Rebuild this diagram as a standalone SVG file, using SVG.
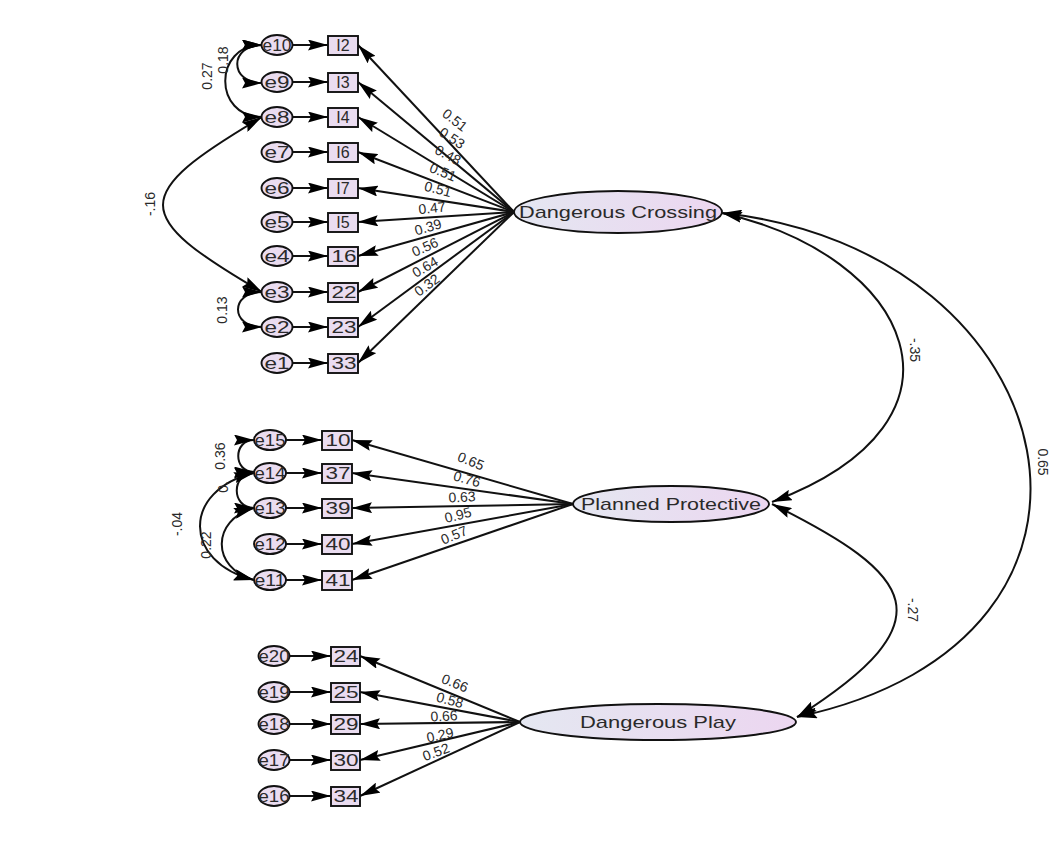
<svg xmlns="http://www.w3.org/2000/svg" width="1054" height="841" viewBox="0 0 1054 841">
<defs>
<linearGradient id="lg" x1="0" y1="0" x2="1" y2="0">
<stop offset="0" stop-color="#e4e7f1"/>
<stop offset="1" stop-color="#ecd6f0"/>
</linearGradient>
<marker id="ah" viewBox="0 0 20 11" refX="20" refY="5.5" markerWidth="20" markerHeight="11" orient="auto" markerUnits="userSpaceOnUse"><path d="M0,0 L20,5.5 L0,11 L3,5.5 z" fill="#000"/></marker>
<marker id="as" viewBox="0 0 20 11" refX="20" refY="5.5" markerWidth="20" markerHeight="11" orient="auto-start-reverse" markerUnits="userSpaceOnUse"><path d="M0,0 L20,5.5 L0,11 L3,5.5 z" fill="#000"/></marker>
<style>
.box{fill:#eadcf0;stroke:#111;stroke-width:1.9}
.err{fill:#eadcf0;stroke:#111;stroke-width:1.9}
.lat{fill:url(#lg);stroke:#111;stroke-width:1.9}
.t{font-family:"Liberation Sans",Arial,sans-serif;fill:#2a2a2a;text-anchor:middle}
.nl{font-size:16px}
.ll{font-size:14px}
.lt{font-size:17px}
.ln{stroke:#111;stroke-width:2;fill:none;marker-end:url(#ah)}
.cv{stroke:#111;stroke-width:2;fill:none;marker-start:url(#as);marker-end:url(#as)}
</style>
</defs>
<rect width="1054" height="841" fill="#fff"/>

<g id="connectors">
<path class="ln" d="M292,45 L328,45"/>
<path class="ln" d="M292,82 L328,82"/>
<path class="ln" d="M292,117 L328,117"/>
<path class="ln" d="M292,152 L328,152"/>
<path class="ln" d="M292,188 L328,188"/>
<path class="ln" d="M292,222 L328,222"/>
<path class="ln" d="M292,256 L328,256"/>
<path class="ln" d="M292,292 L328,292"/>
<path class="ln" d="M292,327 L328,327"/>
<path class="ln" d="M292,363 L328,363"/>
<path class="ln" d="M286,440 L322,440"/>
<path class="ln" d="M286,473 L322,473"/>
<path class="ln" d="M286,508 L322,508"/>
<path class="ln" d="M286,544 L322,544"/>
<path class="ln" d="M286,580 L322,580"/>
<path class="ln" d="M289,656 L331,656"/>
<path class="ln" d="M289,692 L331,692"/>
<path class="ln" d="M289,724 L331,724"/>
<path class="ln" d="M289,760 L331,760"/>
<path class="ln" d="M289,796 L331,796"/>
<path class="ln" d="M514,212 L358,45"/>
<path class="ln" d="M514,212 L358,82"/>
<path class="ln" d="M514,212 L358,117"/>
<path class="ln" d="M514,212 L358,152"/>
<path class="ln" d="M514,212 L358,188"/>
<path class="ln" d="M514,212 L358,222"/>
<path class="ln" d="M514,212 L358,256"/>
<path class="ln" d="M514,212 L358,292"/>
<path class="ln" d="M514,212 L358,327"/>
<path class="ln" d="M514,212 L358,363"/>
<path class="ln" d="M573,504 L352,440"/>
<path class="ln" d="M573,504 L352,473"/>
<path class="ln" d="M573,504 L352,508"/>
<path class="ln" d="M573,504 L352,544"/>
<path class="ln" d="M573,504 L352,580"/>
<path class="ln" d="M520,722 L360,656"/>
<path class="ln" d="M520,722 L360,692"/>
<path class="ln" d="M520,722 L360,724"/>
<path class="ln" d="M520,722 L360,760"/>
<path class="ln" d="M520,722 L360,796"/>
<path class="cv" d="M722,213 C910,255 990,420 772,502"/>
<path class="cv" d="M722,213 C1070,250 1162,640 797,717"/>
<path class="cv" d="M772,504 C915,575 950,620 797,717"/>
<path class="cv" d="M262,45 C229,45 229,83 262,83"/>
<path class="cv" d="M262,45 C213,45 213,117 262,117"/>
<path class="cv" d="M262,117 C130,195 130,215 262,292"/>
<path class="cv" d="M262,292 C230,292 230,327 262,327"/>
<path class="cv" d="M254,440 C233,440 233,472 254,472"/>
<path class="cv" d="M254,473 C231,473 231,508 254,508"/>
<path class="cv" d="M254,473 C182,490 182,562 254,580"/>
<path class="cv" d="M254,508 C211,520 211,568 254,580"/>
</g>

<g id="edge-labels">
<text class="t ll" transform="translate(455,120) rotate(38)" dy="0.35em">0.51</text>
<text class="t ll" transform="translate(452,138) rotate(33)" dy="0.35em">0.53</text>
<text class="t ll" transform="translate(448,155) rotate(28)" dy="0.35em">0.48</text>
<text class="t ll" transform="translate(443,172) rotate(22)" dy="0.35em">0.51</text>
<text class="t ll" transform="translate(438,189) rotate(14)" dy="0.35em">0.51</text>
<text class="t ll" transform="translate(432,208) rotate(-6)" dy="0.35em">0.47</text>
<text class="t ll" transform="translate(428,227) rotate(-16)" dy="0.35em">0.39</text>
<text class="t ll" transform="translate(425,247) rotate(-24)" dy="0.35em">0.56</text>
<text class="t ll" transform="translate(425,267) rotate(-30)" dy="0.35em">0.64</text>
<text class="t ll" transform="translate(427,285) rotate(-36)" dy="0.35em">0.32</text>

<text class="t ll" transform="translate(471,461) rotate(22)" dy="0.35em">0.65</text>
<text class="t ll" transform="translate(467,479) rotate(16)" dy="0.35em">0.76</text>
<text class="t ll" transform="translate(462,497) rotate(-3)" dy="0.35em">0.63</text>
<text class="t ll" transform="translate(458,515) rotate(-14)" dy="0.35em">0.95</text>
<text class="t ll" transform="translate(454,535) rotate(-22)" dy="0.35em">0.57</text>

<text class="t ll" transform="translate(455,683) rotate(22)" dy="0.35em">0.66</text>
<text class="t ll" transform="translate(450,700) rotate(15)" dy="0.35em">0.58</text>
<text class="t ll" transform="translate(444,716) rotate(-3)" dy="0.35em">0.66</text>
<text class="t ll" transform="translate(440,735) rotate(-12)" dy="0.35em">0.29</text>
<text class="t ll" transform="translate(436,752) rotate(-20)" dy="0.35em">0.52</text>

<text class="t ll" transform="translate(915,350) rotate(90)" dy="0.35em">-.35</text>
<text class="t ll" transform="translate(1043,462) rotate(90)" dy="0.35em">0.65</text>
<text class="t ll" transform="translate(913,610) rotate(90)" dy="0.35em">-.27</text>

<text class="t ll" transform="translate(207,76) rotate(-90)" dy="0.35em">0.27</text>
<text class="t ll" transform="translate(223,60) rotate(-90)" dy="0.35em">0.18</text>
<text class="t ll" transform="translate(150,204) rotate(-90)" dy="0.35em">-.16</text>
<text class="t ll" transform="translate(222,310) rotate(-90)" dy="0.35em">0.13</text>
<text class="t ll" transform="translate(220,456) rotate(-90)" dy="0.35em">0.36</text>
<text class="t ll" transform="translate(223,487) rotate(-90)" dy="0.35em">0.</text>
<text class="t ll" transform="translate(177,524) rotate(-90)" dy="0.35em">-.04</text>
<text class="t ll" transform="translate(206,545) rotate(-90)" dy="0.35em">0.22</text>
</g>

<g id="DC"><ellipse class="lat" cx="618" cy="212" rx="104" ry="21"/><text class="t lt" x="618" y="218" textLength="198" lengthAdjust="spacingAndGlyphs">Dangerous Crossing</text></g>
<g id="PP"><ellipse class="lat" cx="671" cy="504" rx="98" ry="18"/><text class="t lt" x="671" y="510" textLength="180" lengthAdjust="spacingAndGlyphs">Planned Protective</text></g>
<g id="DP"><ellipse class="lat" cx="658" cy="722" rx="138" ry="18"/><text class="t lt" x="658" y="728" textLength="156" lengthAdjust="spacingAndGlyphs">Dangerous Play</text></g>

<g id="e10"><ellipse class="err" cx="277" cy="45" rx="15.5" ry="10"/><text class="t nl" x="277" y="51" textLength="29" lengthAdjust="spacingAndGlyphs">e10</text></g>
<g id="e9"><ellipse class="err" cx="277" cy="82" rx="15.5" ry="10"/><text class="t nl" x="277" y="88" textLength="25" lengthAdjust="spacingAndGlyphs">e9</text></g>
<g id="e8"><ellipse class="err" cx="277" cy="117" rx="15.5" ry="10"/><text class="t nl" x="277" y="123" textLength="25" lengthAdjust="spacingAndGlyphs">e8</text></g>
<g id="e7"><ellipse class="err" cx="277" cy="152" rx="15.5" ry="10"/><text class="t nl" x="277" y="158" textLength="25" lengthAdjust="spacingAndGlyphs">e7</text></g>
<g id="e6"><ellipse class="err" cx="277" cy="188" rx="15.5" ry="10"/><text class="t nl" x="277" y="194" textLength="25" lengthAdjust="spacingAndGlyphs">e6</text></g>
<g id="e5"><ellipse class="err" cx="277" cy="222" rx="15.5" ry="10"/><text class="t nl" x="277" y="228" textLength="25" lengthAdjust="spacingAndGlyphs">e5</text></g>
<g id="e4"><ellipse class="err" cx="277" cy="256" rx="15.5" ry="10"/><text class="t nl" x="277" y="262" textLength="25" lengthAdjust="spacingAndGlyphs">e4</text></g>
<g id="e3"><ellipse class="err" cx="277" cy="292" rx="15.5" ry="10"/><text class="t nl" x="277" y="298" textLength="25" lengthAdjust="spacingAndGlyphs">e3</text></g>
<g id="e2"><ellipse class="err" cx="277" cy="327" rx="15.5" ry="10"/><text class="t nl" x="277" y="333" textLength="25" lengthAdjust="spacingAndGlyphs">e2</text></g>
<g id="e1"><ellipse class="err" cx="277" cy="363" rx="15.5" ry="10"/><text class="t nl" x="277" y="369" textLength="25" lengthAdjust="spacingAndGlyphs">e1</text></g>

<g id="I2"><rect class="box" x="328" y="36" width="30" height="19"/><text class="t nl" x="343" y="51">I2</text></g>
<g id="I3"><rect class="box" x="328" y="73" width="30" height="19"/><text class="t nl" x="343" y="88">I3</text></g>
<g id="I4"><rect class="box" x="328" y="108" width="30" height="19"/><text class="t nl" x="343" y="123">I4</text></g>
<g id="I6"><rect class="box" x="328" y="143" width="30" height="19"/><text class="t nl" x="343" y="158">I6</text></g>
<g id="I7"><rect class="box" x="328" y="179" width="30" height="19"/><text class="t nl" x="343" y="194">I7</text></g>
<g id="I5"><rect class="box" x="328" y="213" width="30" height="19"/><text class="t nl" x="343" y="228">I5</text></g>
<g id="n16"><rect class="box" x="328" y="247" width="30" height="19"/><text class="t nl" x="344" y="262" textLength="25" lengthAdjust="spacingAndGlyphs">16</text></g>
<g id="n22"><rect class="box" x="328" y="283" width="30" height="19"/><text class="t nl" x="344" y="298" textLength="25" lengthAdjust="spacingAndGlyphs">22</text></g>
<g id="n23"><rect class="box" x="328" y="318" width="30" height="19"/><text class="t nl" x="344" y="333" textLength="25" lengthAdjust="spacingAndGlyphs">23</text></g>
<g id="n33"><rect class="box" x="328" y="354" width="30" height="19"/><text class="t nl" x="344" y="369" textLength="25" lengthAdjust="spacingAndGlyphs">33</text></g>

<g id="e15"><ellipse class="err" cx="270" cy="440" rx="16" ry="10"/><text class="t nl" x="270" y="446" textLength="31" lengthAdjust="spacingAndGlyphs">e15</text></g>
<g id="e14"><ellipse class="err" cx="270" cy="473" rx="16" ry="10"/><text class="t nl" x="270" y="479" textLength="31" lengthAdjust="spacingAndGlyphs">e14</text></g>
<g id="e13"><ellipse class="err" cx="270" cy="508" rx="16" ry="10"/><text class="t nl" x="270" y="514" textLength="31" lengthAdjust="spacingAndGlyphs">e13</text></g>
<g id="e12"><ellipse class="err" cx="270" cy="544" rx="16" ry="10"/><text class="t nl" x="270" y="550" textLength="31" lengthAdjust="spacingAndGlyphs">e12</text></g>
<g id="e11"><ellipse class="err" cx="270" cy="580" rx="16" ry="10"/><text class="t nl" x="270" y="586" textLength="31" lengthAdjust="spacingAndGlyphs">e11</text></g>

<g id="n10"><rect class="box" x="322" y="431" width="30" height="19"/><text class="t nl" x="338" y="446" textLength="25" lengthAdjust="spacingAndGlyphs">10</text></g>
<g id="n37"><rect class="box" x="322" y="464" width="30" height="19"/><text class="t nl" x="338" y="479" textLength="25" lengthAdjust="spacingAndGlyphs">37</text></g>
<g id="n39"><rect class="box" x="322" y="499" width="30" height="19"/><text class="t nl" x="338" y="514" textLength="25" lengthAdjust="spacingAndGlyphs">39</text></g>
<g id="n40"><rect class="box" x="322" y="535" width="30" height="19"/><text class="t nl" x="338" y="550" textLength="25" lengthAdjust="spacingAndGlyphs">40</text></g>
<g id="n41"><rect class="box" x="322" y="571" width="30" height="19"/><text class="t nl" x="338" y="586" textLength="25" lengthAdjust="spacingAndGlyphs">41</text></g>

<g id="e20"><ellipse class="err" cx="274" cy="656" rx="15.5" ry="10"/><text class="t nl" x="274" y="662" textLength="31" lengthAdjust="spacingAndGlyphs">e20</text></g>
<g id="e19"><ellipse class="err" cx="274" cy="692" rx="15.5" ry="10"/><text class="t nl" x="274" y="698" textLength="31" lengthAdjust="spacingAndGlyphs">e19</text></g>
<g id="e18"><ellipse class="err" cx="274" cy="724" rx="15.5" ry="10"/><text class="t nl" x="274" y="730" textLength="31" lengthAdjust="spacingAndGlyphs">e18</text></g>
<g id="e17"><ellipse class="err" cx="274" cy="760" rx="15.5" ry="10"/><text class="t nl" x="274" y="766" textLength="31" lengthAdjust="spacingAndGlyphs">e17</text></g>
<g id="e16"><ellipse class="err" cx="274" cy="796" rx="15.5" ry="10"/><text class="t nl" x="274" y="802" textLength="31" lengthAdjust="spacingAndGlyphs">e16</text></g>

<g id="n24"><rect class="box" x="331" y="647" width="29" height="19"/><text class="t nl" x="346" y="662" textLength="25" lengthAdjust="spacingAndGlyphs">24</text></g>
<g id="n25"><rect class="box" x="331" y="683" width="29" height="19"/><text class="t nl" x="346" y="698" textLength="25" lengthAdjust="spacingAndGlyphs">25</text></g>
<g id="n29"><rect class="box" x="331" y="715" width="29" height="19"/><text class="t nl" x="346" y="730" textLength="25" lengthAdjust="spacingAndGlyphs">29</text></g>
<g id="n30"><rect class="box" x="331" y="751" width="29" height="19"/><text class="t nl" x="346" y="766" textLength="25" lengthAdjust="spacingAndGlyphs">30</text></g>
<g id="n34"><rect class="box" x="331" y="787" width="29" height="19"/><text class="t nl" x="346" y="802" textLength="25" lengthAdjust="spacingAndGlyphs">34</text></g>
</svg>
